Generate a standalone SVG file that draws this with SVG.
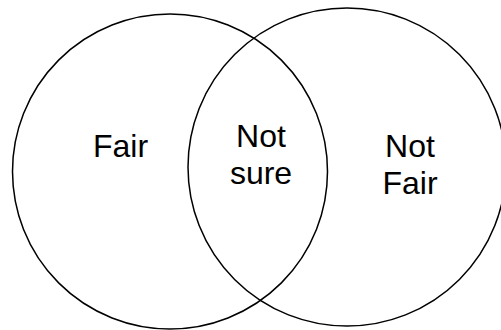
<svg xmlns="http://www.w3.org/2000/svg" width="501" height="330" viewBox="0 0 501 330">
<style>
.c{fill:none;stroke:#000;stroke-width:1.5}
.t{font-family:"Liberation Sans",Arial,sans-serif;font-size:32px;fill:#000;text-anchor:middle}
</style>
<rect width="501" height="330" fill="#fff"/>
<g id="left-set"><circle class="c" cx="170" cy="171.5" r="157.5"/><text class="t" x="120.5" y="157">Fair</text></g>
<g id="right-set"><circle class="c" cx="347" cy="167" r="159"/><text class="t" x="410" y="157">Not</text><text class="t" x="410" y="194">Fair</text></g>
<g id="intersection"><text class="t" x="261" y="147">Not</text><text class="t" x="261" y="184">sure</text></g>
<g id="connectors"/>
</svg>
